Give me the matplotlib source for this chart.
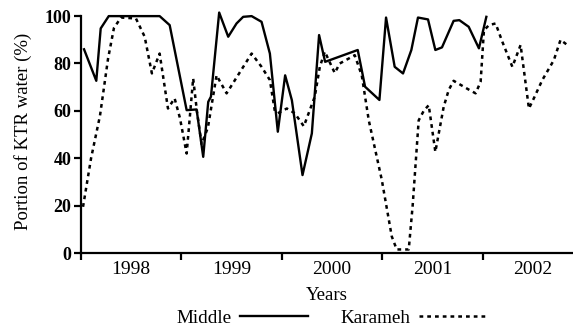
import matplotlib.pyplot as plt

plt.rcParams['font.family'] = ['Liberation Serif', 'DejaVu Serif']

# Middle station, portion of KTR water (%), x in decimal years
middle_t = [1998.030, 1998.152, 1998.196, 1998.276, 1998.783, 1998.883,
            1999.052, 1999.151, 1999.217, 1999.267, 1999.294, 1999.376,
            1999.466, 1999.549, 1999.615, 1999.699, 1999.798, 1999.881,
            1999.960, 2000.033, 2000.100, 2000.206, 2000.299, 2000.371,
            2000.431, 2000.756, 2000.829, 2000.972, 2001.038, 2001.124,
            2001.207, 2001.290, 2001.356, 2001.456, 2001.529, 2001.595,
            2001.711, 2001.768, 2001.861, 2001.963, 2002.037]
middle_v = [86.0, 72.7, 94.8, 100, 100, 96.2,
            60.3, 60.6, 40.6, 63.8, 66.0, 101.5,
            91.3, 96.9, 99.7, 100, 97.6, 84.2,
            51.2, 75.0, 64.5, 32.9, 50.5, 92.0,
            80.7, 85.7, 70.2, 64.6, 99.4, 78.6,
            75.8, 85.7, 99.4, 98.6, 85.7, 86.8,
            98.0, 98.3, 95.5, 86.4, 99.7]

# Karameh station
karameh_t = [1998.020, 1998.100, 1998.189, 1998.269, 1998.328, 1998.398,
             1998.547, 1998.634, 1998.706, 1998.783, 1998.866, 1998.932,
             1998.985, 1999.052, 1999.117, 1999.154, 1999.201, 1999.264,
             1999.350, 1999.450, 1999.699, 1999.798, 1999.881, 1999.930,
             1999.960, 2000.050, 2000.129, 2000.219, 2000.328, 2000.378,
             2000.428, 2000.527, 2000.577, 2000.726, 2000.796, 2000.866,
             2000.995, 2001.095, 2001.144, 2001.264, 2001.303, 2001.363,
             2001.413, 2001.463, 2001.529, 2001.612, 2001.662, 2001.711,
             2001.861, 2001.930, 2001.980, 2002.013, 2002.063, 2002.129,
             2002.196, 2002.296, 2002.378, 2002.461, 2002.510, 2002.594,
             2002.709, 2002.776, 2002.843]
karameh_v = [19.5, 40.0, 58.0, 82.0, 95.0, 99.4,
             99.0, 91.3, 75.8, 84.2, 61.0, 65.3,
             57.0, 42.0, 73.7, 60.0, 46.0, 53.0,
             75.0, 67.4, 84.2, 78.6, 73.0, 60.0,
             59.0, 61.0, 59.0, 53.5, 66.0, 78.5,
             85.0, 76.0, 80.0, 83.5, 75.0, 56.0,
             31.0, 7.0, 1.5, 1.5, 20.0, 56.0,
             60.0, 62.4, 42.7, 61.7, 68.8, 72.7,
             69.0, 67.4, 72.3, 94.0, 96.2, 96.9,
             89.2, 78.6, 87.8, 61.0, 65.3, 73.0,
             81.4, 90.0, 87.8]

years = [1998, 1999, 2000, 2001, 2002]
yticks = [0, 20, 40, 60, 80, 100]

fig = plt.figure(figsize=(5.73, 3.30), dpi=100)
ax = fig.add_axes([0.1414, 0.2333, 0.8586, 0.7394])

ax.plot(middle_t, middle_v, color='black', lw=1.7, label='Middle')
ax.plot(karameh_t, karameh_v, color='black', lw=1.8,
        linestyle=(0, (1.5, 1.6)), label='Karameh')

ax.set_xlim(1998, 2002.9)
ax.set_ylim(0, 103)
ax.spines['top'].set_visible(False)
ax.spines['right'].set_visible(False)
ax.spines['left'].set_bounds(0, 100)
ax.spines['left'].set_linewidth(1.6)
ax.spines['bottom'].set_linewidth(1.6)

ax.set_yticks(yticks)
ax.set_yticklabels([str(v) for v in yticks], fontweight='bold', fontsize=13)
ax.tick_params(axis='y', length=5, width=1.6, pad=2)

ax.set_xticks(years)
ax.set_xticklabels([])
ax.set_xticks([y + 0.5 for y in years], minor=True)
ax.set_xticklabels([str(y) for y in years], minor=True, fontsize=14)
ax.tick_params(axis='x', which='major', length=5, width=1.6)
ax.tick_params(axis='x', which='minor', length=0, pad=6)

ax.set_xlabel('Years', fontsize=13.5, labelpad=6)
ax.set_ylabel('Portion of KTR water (%)', fontsize=13.5, labelpad=9)

fig.legend(loc='center', bbox_to_anchor=(0.579, 0.035), ncol=2,
           markerfirst=False, frameon=False, fontsize=13.8,
           handlelength=3.55, handletextpad=0.45, columnspacing=1.7,
           borderpad=0, borderaxespad=0)

fig.savefig('out.png', dpi=100)
